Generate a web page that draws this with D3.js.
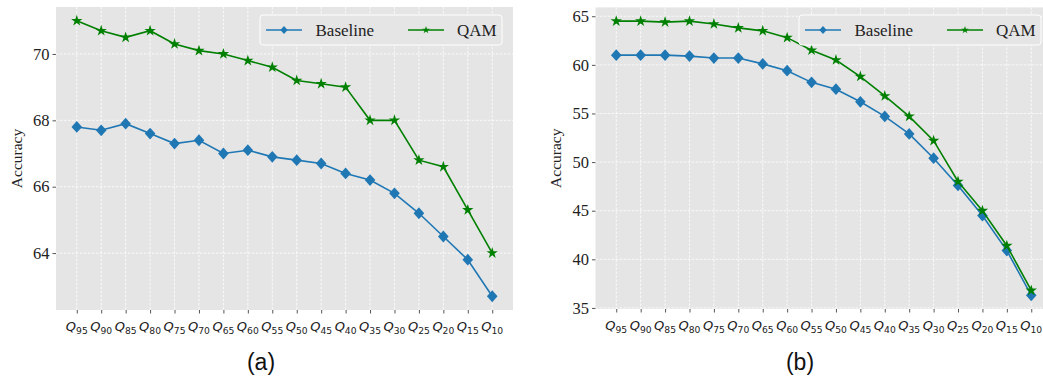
<!DOCTYPE html>
<html>
<head>
<meta charset="utf-8">
<script src="https://cdn.jsdelivr.net/npm/d3@7"></script>
<style>
  body { margin: 0; background: #fff; }
  svg { display: block; }
</style>
</head>
<body>
<svg id="chart" width="1043" height="380"></svg>
<script>
"use strict";

var levels = ["95","90","85","80","75","70","65","60","55","50","45","40","35","30","25","20","15","10"];

var baselineA = [67.8, 67.7, 67.9, 67.6, 67.3, 67.4, 67.0, 67.1, 66.9, 66.8, 66.7, 66.4, 66.2, 65.8, 65.2, 64.5, 63.8, 62.7];
var qamA      = [71.0, 70.7, 70.5, 70.7, 70.3, 70.1, 70.0, 69.8, 69.6, 69.2, 69.1, 69.0, 68.0, 68.0, 66.8, 66.6, 65.3, 64.0];
var ticksA    = [64, 66, 68, 70];

var baselineB = [61.0, 61.0, 61.0, 60.9, 60.7, 60.7, 60.1, 59.4, 58.2, 57.5, 56.2, 54.7, 52.9, 50.4, 47.6, 44.5, 40.9, 36.3];
var qamB      = [64.5, 64.5, 64.4, 64.5, 64.2, 63.8, 63.5, 62.8, 61.5, 60.5, 58.8, 56.8, 54.7, 52.2, 48.0, 45.0, 41.4, 36.8];
var ticksB    = [35, 40, 45, 50, 55, 60, 65];

var seriesNames = ["Baseline", "QAM"];
var colors = ["#1f77b4", "#008000"];

var svg = d3.select("#chart");
var serif = "'Liberation Serif', 'Times New Roman', serif";

function drawPanel(opt) {
  var g = svg.append("g");
  var all = opt.base.concat(opt.qam);
  var lo = d3.min(all), hi = d3.max(all), pad = (hi - lo) * 0.05;
  var n = levels.length;

  var x = d3.scaleLinear().domain([-0.85, n - 1 + 0.85]).range([opt.left, opt.right]);
  var y = d3.scaleLinear().domain([lo - pad, hi + pad]).range([opt.bottom, opt.top]);

  // background
  g.append("rect").attr("x", opt.left).attr("y", opt.top)
    .attr("width", opt.right - opt.left).attr("height", opt.bottom - opt.top)
    .attr("fill", "#e5e5e5");

  // grid
  g.selectAll(".gx").data(levels).enter().append("line")
    .attr("x1", function(d, i) { return x(i); }).attr("x2", function(d, i) { return x(i); })
    .attr("y1", opt.top).attr("y2", opt.bottom)
    .attr("stroke", "#fff").attr("stroke-width", 0.8).attr("stroke-dasharray", "2.5,1.5");
  g.selectAll(".gy").data(opt.ticks).enter().append("line")
    .attr("x1", opt.left).attr("x2", opt.right)
    .attr("y1", function(d) { return y(d); }).attr("y2", function(d) { return y(d); })
    .attr("stroke", "#fff").attr("stroke-width", 0.8).attr("stroke-dasharray", "2.5,1.5");

  // y axis ticks + labels
  var yAxis = d3.axisLeft(y).tickValues(opt.ticks).tickSize(3.5).tickPadding(3);
  var ya = g.append("g").attr("transform", "translate(" + opt.left + ",0)").call(yAxis);
  ya.select(".domain").remove();
  ya.selectAll("line").attr("stroke", "#555");
  ya.selectAll("text").attr("font-family", serif).attr("font-size", 16.5).attr("fill", "#222");

  // x axis ticks
  var xAxis = d3.axisBottom(x).tickValues(d3.range(n)).tickSize(3.5).tickFormat("");
  var xa = g.append("g").attr("transform", "translate(0," + opt.bottom + ")").call(xAxis);
  xa.select(".domain").remove();
  xa.selectAll("line").attr("stroke", "#555");

  // x tick labels, Q with subscript
  var lab = g.selectAll(".xl").data(levels).enter().append("text")
    .attr("x", function(d, i) { return x(i); })
    .attr("y", opt.bottom + 21)
    .attr("text-anchor", "middle")
    .attr("font-family", "'DejaVu Sans', sans-serif")
    .attr("fill", "#222");
  lab.append("tspan").attr("font-style", "italic").attr("font-size", 13).text("Q");
  lab.append("tspan").attr("font-size", 9.2).attr("dy", 3).text(function(d) { return d; });

  // y label
  g.append("text")
    .attr("transform", "translate(" + opt.ylabX + "," + ((opt.top + opt.bottom) / 2) + ") rotate(-90)")
    .attr("text-anchor", "middle")
    .attr("font-family", serif)
    .attr("font-size", 15.5).attr("fill", "#222")
    .text("Accuracy");

  var line = d3.line().x(function(d, i) { return x(i); }).y(function(d) { return y(d); });
  var star = d3.symbol().type(d3.symbolStar).size(40);
  var smallStar = d3.symbol().type(d3.symbolStar).size(18);
  var diamond = "M0,-5.9L5.3,0L0,5.9L-5.3,0Z";
  var smallDiamond = "M0,-4L3.6,0L0,4L-3.6,0Z";

  // baseline
  g.append("path").datum(opt.base).attr("d", line)
    .attr("fill", "none").attr("stroke", colors[0]).attr("stroke-width", 1.6);
  g.selectAll(".mb").data(opt.base).enter().append("path")
    .attr("transform", function(d, i) { return "translate(" + x(i) + "," + y(d) + ")"; })
    .attr("d", diamond).attr("fill", colors[0]);

  // qam
  g.append("path").datum(opt.qam).attr("d", line)
    .attr("fill", "none").attr("stroke", colors[1]).attr("stroke-width", 1.6);
  g.selectAll(".mq").data(opt.qam).enter().append("path")
    .attr("transform", function(d, i) { return "translate(" + x(i) + "," + y(d) + ")"; })
    .attr("d", star).attr("fill", colors[1]);

  // legend
  var lg = g.append("g").attr("transform", "translate(" + opt.legX + ",15)");
  lg.append("rect").attr("x", 0).attr("y", 0).attr("width", 242).attr("height", 30).attr("rx", 3)
    .attr("fill", "#e5e5e5").attr("stroke", "#fff").attr("stroke-width", 1);
  lg.append("line").attr("x1", 6).attr("x2", 42).attr("y1", 15).attr("y2", 15)
    .attr("stroke", colors[0]).attr("stroke-width", 1.6);
  lg.append("path").attr("transform", "translate(24,15)").attr("d", smallDiamond).attr("fill", colors[0]);
  lg.append("line").attr("x1", 148).attr("x2", 184).attr("y1", 15).attr("y2", 15)
    .attr("stroke", colors[1]).attr("stroke-width", 1.6);
  lg.append("path").attr("transform", "translate(166,15)").attr("d", smallStar).attr("fill", colors[1]);
  lg.selectAll(".lt").data(seriesNames).enter().append("text")
    .attr("x", function(d, i) { return i === 0 ? 55.5 : 197; })
    .attr("y", 20.5)
    .attr("font-family", serif)
    .attr("font-size", 17).attr("fill", "#222")
    .text(function(d) { return d; });

  // caption
  g.append("text").attr("x", opt.capX).attr("y", 370)
    .attr("text-anchor", "middle")
    .attr("font-family", "'Liberation Sans', Arial, sans-serif")
    .attr("font-size", 23).attr("fill", "#111")
    .text(opt.caption);
}

drawPanel({ base: baselineA, qam: qamA, ticks: ticksA, left: 56, right: 513, top: 7, bottom: 310,
  ylabX: 22, legX: 260, capX: 261, caption: "(a)" });
drawPanel({ base: baselineB, qam: qamB, ticks: ticksB, left: 595.5, right: 1052, top: 7.4, bottom: 309,
  ylabX: 561, legX: 799, capX: 800, caption: "(b)" });
</script>
</body>
</html>
